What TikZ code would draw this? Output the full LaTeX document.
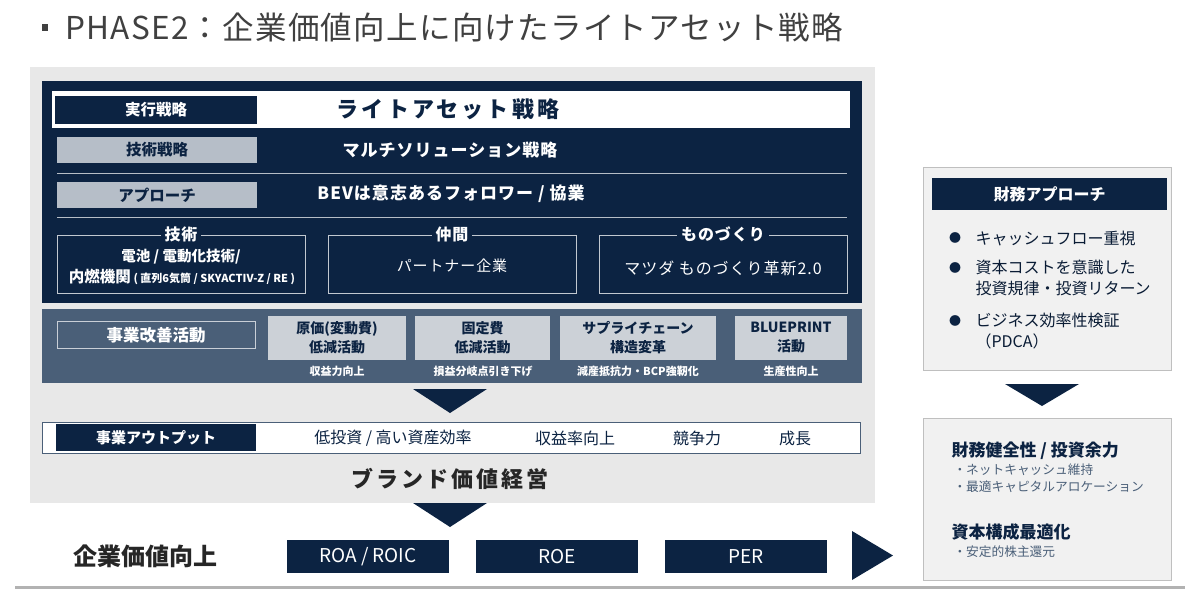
\documentclass[tikz,border=0pt]{standalone}
\usepackage{fontspec}
\setmainfont{Noto Sans CJK JP}
\setsansfont{Noto Sans CJK JP}
\newfontfamily\widefont[LetterSpace=14]{Noto Sans CJK JP}
\newfontfamily\midfont[LetterSpace=6]{Noto Sans CJK JP}
\newfontfamily\titlefont[LetterSpace=4]{Noto Sans CJK JP}
\usepackage{tikz}
\usepackage{xcolor}
\definecolor{navy}{RGB}{12,35,66}
\definecolor{slate}{RGB}{74,95,120}
\definecolor{bggray}{RGB}{232,232,232}
\definecolor{panelgray}{RGB}{241,241,241}
\definecolor{lblgray}{RGB}{182,190,200}
\definecolor{actgray}{RGB}{204,209,215}
\definecolor{titlegray}{RGB}{64,64,64}
\newcommand\fsz[2]{\fontsize{#1}{#2}\selectfont}

\tikzset{
  navylbl/.style={fill=navy, text=white, minimum width=202, minimum height=28,
    inner sep=0pt, font=\fsz{15.5}{18}\bfseries},
  graylbl/.style={fill=lblgray, text=navy, minimum width=200, minimum height=26,
    inner sep=0pt, font=\fsz{15.5}{18}\bfseries},
  grpbox/.style={draw=white!75!navy, minimum width=248, minimum height=58, inner sep=0pt},
  grptitle/.style={fill=navy, text=white, inner sep=4pt, font=\fsz{16}{19}\bfseries\midfont},
  actbox/.style={fill=actgray, text=navy, minimum height=44, inner sep=0pt,
    align=center, font=\fsz{14}{19}\bfseries},
  actnote/.style={text=white, font=\fsz{11}{13}\bfseries},
  outtxt/.style={text=navy, font=\fsz{16}{19}},
  kpibox/.style={fill=navy, text=white, minimum width=162, minimum height=33,
    inner sep=0pt, font=\fsz{19}{22}},
  bigtxt/.style={font=\fsz{22}{26}\bfseries\widefont},
  bullet/.style={text=navy, font=\fsz{12}{14}},
  itemtxt/.style={anchor=west, align=left, text=navy!80!black, font=\fsz{16}{21}},
  subhead/.style={anchor=west, text=navy, font=\fsz{17}{20}\bfseries},
  subitem/.style={anchor=west, align=left, text=slate, font=\fsz{12.7}{17}}
}

\begin{document}
\begin{tikzpicture}[x=1pt, y=-1pt]
  \useasboundingbox (0,0) rectangle (1200,595);

  \fill[titlegray] (42,24) rectangle (48,31);
  \node[anchor=west, text=titlegray, font=\fsz{31.5}{36}\titlefont] (title) at (62,27)
    {PHASE2：企業価値向上に向けたライトアセット戦略};

  \fill[bggray] (30,67) rectangle (875,503);
  \fill[navy] (42,81) rectangle (862,303);

  \fill[white] (52,91) rectangle (850,128);
  \node[navylbl] (execlbl) at (156,110) {実行戦略};
  \node[bigtxt, text=navy] (exec) at (448,109) {ライトアセット戦略};

  \node[graylbl] (techlbl) at (157,150) {技術戦略};
  \node[text=white, font=\fsz{17}{20}\bfseries\midfont] (tech) at (450,150)
    {マルチソリューション戦略};
  \draw[white!70!navy, line width=1] (57,173) -- (847,173);

  \node[graylbl] (apprlbl) at (157,195) {アプローチ};
  \node[text=white, font=\fsz{17}{20}\bfseries\midfont] (appr) at (451,194)
    {BEVは意志あるフォロワー / 協業};
  \draw[white!70!navy, line width=1] (57,217) -- (847,217);

  \node[grpbox] (grp1) at (181,264) {};
  \node[grpbox] (grp2) at (452,264) {};
  \node[grpbox] (grp3) at (723,264) {};
  \node[grptitle] (grp1t) at (grp1.north) {技術};
  \node[grptitle] (grp2t) at (grp2.north) {仲間};
  \node[grptitle] (grp3t) at (grp3.north) {ものづくり};
  \node[text=white, font=\fsz{14.5}{17}\bfseries] (grp1a) at (181,257) {電池 / 電動化技術/};
  \node[text=white, font=\fsz{15.5}{18}\bfseries] (grp1b) at (182,277)
    {内燃機関{\fsz{11}{13} ( 直列6気筒 / SKYACTIV-Z / RE )}};
  \node[text=white, font=\fsz{15}{18}\midfont] (grp2a) at (452,266) {パートナー企業};
  \node[text=white, font=\fsz{16}{19}\midfont] (grp3a) at (723,268) {マツダ ものづくり革新2.0};

  \fill[slate] (42,309) rectangle (862,383);
  \node[draw=white!70!slate, line width=1, text=white, minimum width=198, minimum height=27,
    inner sep=0pt, font=\fsz{16.5}{19}\bfseries] (kaizen) at (156,335) {事業改善活動};
  \node[actbox, minimum width=138] (act1) at (337,338) {原価(変動費)\\低減活動};
  \node[actbox, minimum width=135] (act2) at (482.5,338) {固定費\\低減活動};
  \node[actbox, minimum width=156] (act3) at (638,338) {サプライチェーン\\構造変革};
  \node[actbox, minimum width=112] (act4) at (791,338) {BLUEPRINT\\活動};
  \node[actnote] (note1) at (337,371) {収益力向上};
  \node[actnote] (note2) at (483,371) {損益分岐点引き下げ};
  \node[actnote] (note3) at (638,371) {減産抵抗力・BCP強靭化};
  \node[actnote] (note4) at (791,371) {生産性向上};

  \fill[navy] (413,389) -- (487,389) -- (450,413) -- cycle;

  \filldraw[fill=white, draw=slate, line width=1] (42,422) rectangle (860,453);
  \node[navylbl, minimum width=200, minimum height=27, font=\fsz{15}{18}\bfseries]
    (outlbl) at (156,437.5) {事業アウトプット};
  \node[outtxt] (out1) at (393,438) {低投資 / 高い資産効率};
  \node[outtxt] (out2) at (575,438) {収益率向上};
  \node[outtxt] (out3) at (697,438) {競争力};
  \node[outtxt] (out4) at (795,438) {成長};

  \node[bigtxt, text=black!85] (brand) at (450,479) {ブランド価値経営};
  \fill[navy] (413,503) -- (487,503) -- (450,527) -- cycle;

  \node[text=black!85, font=\fsz{24}{28}\bfseries] (value) at (145,556) {企業価値向上};
  \node[kpibox] (roa) at (368,556.5) {ROA / ROIC};
  \node[kpibox] (roe) at (557,556.5) {ROE};
  \node[kpibox] (per) at (746,556.5) {PER};
  \fill[navy] (852,531) -- (893,555.5) -- (852,580) -- cycle;
  \draw[black!30, line width=3] (15,587) -- (1185,587);

  \filldraw[fill=panelgray, draw=black!25, line width=1] (923,167) rectangle (1171,370);
  \node[navylbl, minimum width=235, minimum height=32, font=\fsz{16}{19}\bfseries]
    (finlbl) at (1049.5,194) {財務アプローチ};
  \node[bullet] (b1) at (955,238) {●};
  \node[itemtxt] (fin1) at (972,238) {キャッシュフロー重視};
  \node[bullet] (b2) at (955,268) {●};
  \node[itemtxt, anchor=north west] (fin2) at (972,257) {資本コストを意識した\\投資規律・投資リターン};
  \node[bullet] (b3) at (955,321) {●};
  \node[itemtxt, anchor=north west] (fin3) at (972,310) {ビジネス効率性検証\\（PDCA）};

  \fill[navy] (1005,384) -- (1079,384) -- (1042,406) -- cycle;

  \filldraw[fill=panelgray, draw=black!25, line width=1] (923,418) rectangle (1171,580);
  \node[subhead] (health) at (948,451) {財務健全性 / 投資余力};
  \node[subitem, anchor=north west] (health1) at (950,460)
    {・ネットキャッシュ維持\\・最適キャピタルアロケーション};
  \node[subhead] (capital) at (948,532) {資本構成最適化};
  \node[subitem, anchor=north west] (capital1) at (950,542) {・安定的株主還元};
\end{tikzpicture}
\end{document}
